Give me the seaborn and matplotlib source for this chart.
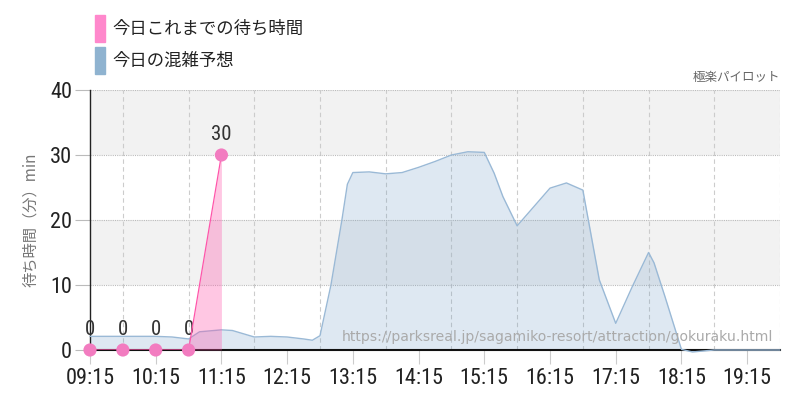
import numpy as np
import pandas as pd
import seaborn as sns
import matplotlib.pyplot as plt
from matplotlib import font_manager
from matplotlib.patches import Rectangle

# Data (times as HH:MM)
actual_times = ["09:15", "09:45", "10:15", "10:45", "11:15"]
actual_wait = [0, 0, 0, 0, 30]

forecast_times = ["09:15", "09:45", "10:15", "10:30", "10:45", "10:55", "11:15", "11:25",
                  "11:45", "12:00", "12:15", "12:30", "12:38", "12:45", "12:55", "13:05",
                  "13:10", "13:15", "13:30", "13:45", "14:00", "14:15", "14:30", "14:45",
                  "15:00", "15:15", "15:24", "15:32", "15:45", "16:00", "16:15", "16:30",
                  "16:45", "16:50", "17:00", "17:15", "17:30", "17:45", "17:50", "18:00",
                  "18:15", "18:25", "18:45", "19:15", "19:45"]
forecast_wait = [2.1, 2.1, 2.1, 2.0, 1.7, 2.8, 3.1, 3.0,
                 2.0, 2.1, 2.0, 1.7, 1.5, 2.2, 10.0, 20.0,
                 25.5, 27.3, 27.4, 27.1, 27.3, 28.1, 29.0, 30.0,
                 30.5, 30.4, 27.2, 23.6, 19.1, 22.0, 24.9, 25.7,
                 24.6, 20.0, 10.8, 4.1, 9.7, 15.0, 13.4, 8.2,
                 0.1, -0.3, 0.0, 0.0, 0.0]

hour_labels = ["09:15", "10:15", "11:15", "12:15", "13:15", "14:15",
               "15:15", "16:15", "17:15", "18:15", "19:15"]
y_ticks = [0, 10, 20, 30, 40]

legend_labels = ["今日これまでの待ち時間", "今日の混雑予想"]
y_label = "待ち時間（分）min"
credit = "極楽パイロット"
url_text = "https://parksreal.jp/sagamiko-resort/attraction/gokuraku.html"


def to_hours(t):
    h, m = t.split(":")
    return int(h) + int(m) / 60


df_act = pd.DataFrame({"t": [to_hours(t) for t in actual_times], "wait": actual_wait})
df_fc = pd.DataFrame({"t": [to_hours(t) for t in forecast_times], "wait": forecast_wait})

sns.set_style("white")
plt.rcParams["font.family"] = ["Noto Sans CJK JP", "DejaVu Sans"]

# narrow font for the numbers, if one is installed
installed = {f.name for f in font_manager.fontManager.ttflist}
num_font, num_size = "DejaVu Sans", 13
for name in ["Roboto Condensed", "DejaVu Sans Condensed", "Liberation Sans Narrow"]:
    if name in installed:
        num_font, num_size = name, 16
        break

pink = "#ff55aa"
blue_line = "#9ab9d6"

fig = plt.figure(figsize=(8, 4), dpi=100)
ax = fig.add_axes([0.1125, 0.125, 0.8625, 0.65])

# background bands
ax.axhspan(30, 40, color="#f2f2f2", zorder=0, lw=0)
ax.axhspan(10, 20, color="#f2f2f2", zorder=0, lw=0)

# forecast area
ax.fill_between(df_fc["t"], df_fc["wait"], 0, color="#749fc7", alpha=0.23, lw=0, zorder=2, clip_on=False)
sns.lineplot(data=df_fc, x="t", y="wait", ax=ax, color=blue_line, linewidth=1, zorder=3, clip_on=False)

# actual wait time
ax.fill_between(df_act["t"], df_act["wait"], 0, color=pink, alpha=0.33, lw=0, zorder=4)
sns.lineplot(data=df_act, x="t", y="wait", ax=ax, color=pink, linewidth=0.9, zorder=5)
sns.scatterplot(data=df_act, x="t", y="wait", ax=ax, color="#f27cc0", s=90, edgecolor="none",
                zorder=6, clip_on=False)
for t, v in zip(df_act["t"], df_act["wait"]):
    ax.annotate(str(v), (t, v), xytext=(0, 8), textcoords="offset points", ha="center", va="bottom",
                fontsize=num_size - 1, color="#333333", family=num_font)

ax.set_xlim(to_hours("09:15"), to_hours("19:45"))
ax.set_ylim(0, 40)

ax.set_xticks([to_hours(t) for t in hour_labels])
ax.set_xticklabels(hour_labels, family=num_font, fontsize=num_size, color="#222222")
ax.set_xticks(np.arange(to_hours("09:15"), to_hours("19:45") + 0.01, 0.5), minor=True)
ax.set_yticks(y_ticks)
ax.set_yticklabels([str(v) for v in y_ticks], family=num_font, fontsize=num_size, color="#222222")

ax.tick_params(axis="x", which="major", length=10, color="#cccccc", width=0.8, pad=3, bottom=True)
ax.tick_params(axis="x", which="minor", length=0)
ax.tick_params(axis="y", length=11, color="#bbbbbb", width=0.8, pad=2, left=True)

ax.grid(False)
ax.xaxis.grid(True, which="minor", color="#cccccc", linestyle=(0, (4, 3)), linewidth=0.8, zorder=1)
ax.yaxis.grid(True, which="major", color="#bbbbbb", linestyle=(0, (1, 1)), linewidth=0.8, zorder=1)
ax.set_axisbelow(True)

for side in ["top", "right"]:
    ax.spines[side].set_visible(False)
ax.spines["left"].set_color("#222222")
ax.spines["left"].set_linewidth(1)
ax.spines["bottom"].set_color("#111111")
ax.spines["bottom"].set_linewidth(1.5)

ax.set_xlabel("")
ax.set_ylabel(y_label, color="#777777", fontsize=11, labelpad=8)

ax.text(0.99, 0.025, url_text, transform=ax.transAxes, ha="right", va="bottom",
        fontsize=10.1, color="#aaaaaa", family="DejaVu Sans", zorder=7)

fig.text(0.975, 0.805, credit, ha="right", va="center", fontsize=9, color="#666666")

# legend
for i, (label, col) in enumerate(zip(legend_labels, ["#ff88cc", "#8fb3d0"])):
    ytop = 1 - (15 + i * 32) / 400
    fig.patches.append(Rectangle((95 / 800, ytop - 27 / 400), 10 / 800, 27 / 400,
                                 transform=fig.transFigure, color=col))
    fig.text(112 / 800, ytop - 13.5 / 400, label, ha="left", va="center", fontsize=12.5, color="#222222")

fig.savefig("out.png", dpi=100)
